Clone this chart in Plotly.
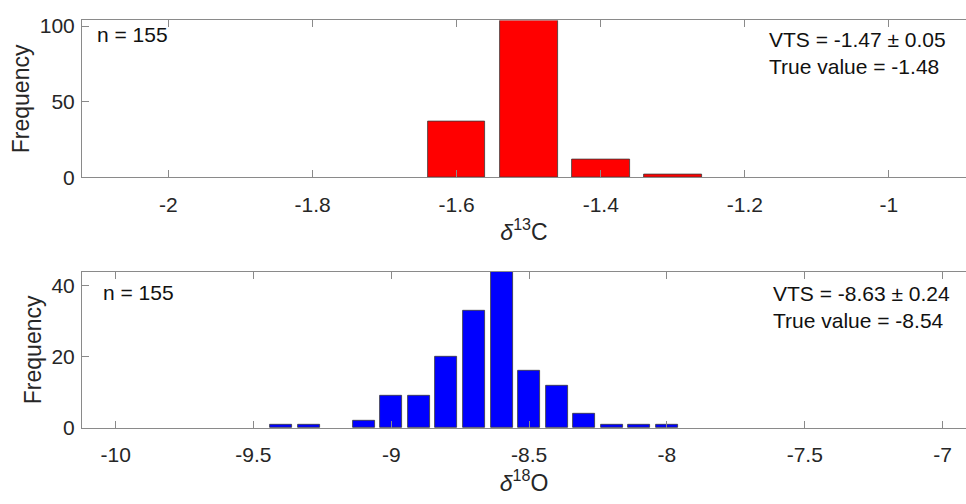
import plotly.graph_objects as go

# ---- data ----
c13_bins = [-1.6, -1.5, -1.4, -1.3]
c13_counts = [37, 104, 12, 2]
o18_bins = [-9.4, -9.3, -9.1, -9.0, -8.9, -8.8, -8.7, -8.6, -8.5, -8.4, -8.3, -8.2, -8.1, -8.0]
o18_counts = [1, 1, 2, 9, 9, 20, 33, 45, 16, 12, 4, 1, 1, 1]
bin_width = 0.08

c13_xticks = [-2, -1.8, -1.6, -1.4, -1.2, -1]
c13_xticktext = ["-2", "-1.8", "-1.6", "-1.4", "-1.2", "-1"]
c13_yticks = [0, 50, 100]
o18_xticks = [-10, -9.5, -9, -8.5, -8, -7.5, -7]
o18_xticktext = ["-10", "-9.5", "-9", "-8.5", "-8", "-7.5", "-7"]
o18_yticks = [0, 20, 40]

n_label = "n = 155"
c13_stats = ["VTS = -1.47 ± 0.05", "True value = -1.48"]
o18_stats = ["VTS = -8.63 ± 0.24", "True value = -8.54"]

W, H = 966, 504
FONT = "Liberation Sans, Arial, sans-serif"
TXT = "#262626"
AX = "#8a8a8a"

fig = go.Figure()
fig.add_trace(go.Bar(x=c13_bins, y=c13_counts, width=bin_width,
                     marker=dict(color="#ff0000", line=dict(color="#3a3a3a", width=0.8)),
                     xaxis="x", yaxis="y", showlegend=False))
fig.add_trace(go.Bar(x=o18_bins, y=o18_counts, width=bin_width,
                     marker=dict(color="#0000ff", line=dict(color="#3a3a3a", width=0.8)),
                     xaxis="x2", yaxis="y2", showlegend=False))

def py(p):
    return 1 - p / H

xdom = [82 / W, 1.0]
base = dict(showline=True, linecolor=AX, linewidth=1,
            ticks="inside", ticklen=7, tickcolor=AX, showgrid=False, zeroline=False,
            tickfont=dict(family=FONT, size=21, color=TXT))
xcommon = dict(base, mirror="ticks", ticklabelstandoff=8)
ycommon = dict(base, mirror=False, ticklabelstandoff=2)
title_font = dict(family=FONT, size=23, color=TXT)

fig.update_layout(
    width=W, height=H, margin=dict(l=0, r=0, t=0, b=0),
    paper_bgcolor="white", plot_bgcolor="white", bargap=0,
    font=dict(family=FONT, size=21, color=TXT),
    xaxis=dict(domain=xdom, anchor="y", range=[-2.12, -0.893],
               tickvals=c13_xticks, ticktext=c13_xticktext,
               title=dict(text="<i>δ</i><sup>13</sup>C", standoff=9, font=title_font),
               **xcommon),
    yaxis=dict(domain=[py(177.3), py(15)], anchor="x", range=[0, 103.7],
               tickvals=c13_yticks,
               title=dict(text="Frequency", standoff=3, font=title_font),
               **ycommon),
    xaxis2=dict(domain=xdom, anchor="y2", range=[-10.122, -6.915],
                tickvals=o18_xticks, ticktext=o18_xticktext,
                title=dict(text="<i>δ</i><sup>18</sup>O", standoff=9, font=title_font),
                **xcommon),
    yaxis2=dict(domain=[py(436.7), py(275)], anchor="x2", range=[0, 43.9],
                tickvals=o18_yticks,
                title=dict(text="Frequency", standoff=3, font=title_font),
                **ycommon),
)

def ann(text, x, y, anchor="left"):
    fig.add_annotation(text=text, x=x / W, y=py(y), xref="paper", yref="paper",
                       xanchor=anchor, yanchor="middle", showarrow=False,
                       font=dict(family=FONT, size=21, color="#111111"))

ann(n_label, 95, 30)
ann(n_label, 101, 297)
ann(c13_stats[0], 767, 35)
ann(c13_stats[1], 767, 63)
ann(o18_stats[0], 771, 298)
ann(o18_stats[1], 771, 325)

fig.write_html("out.html")
